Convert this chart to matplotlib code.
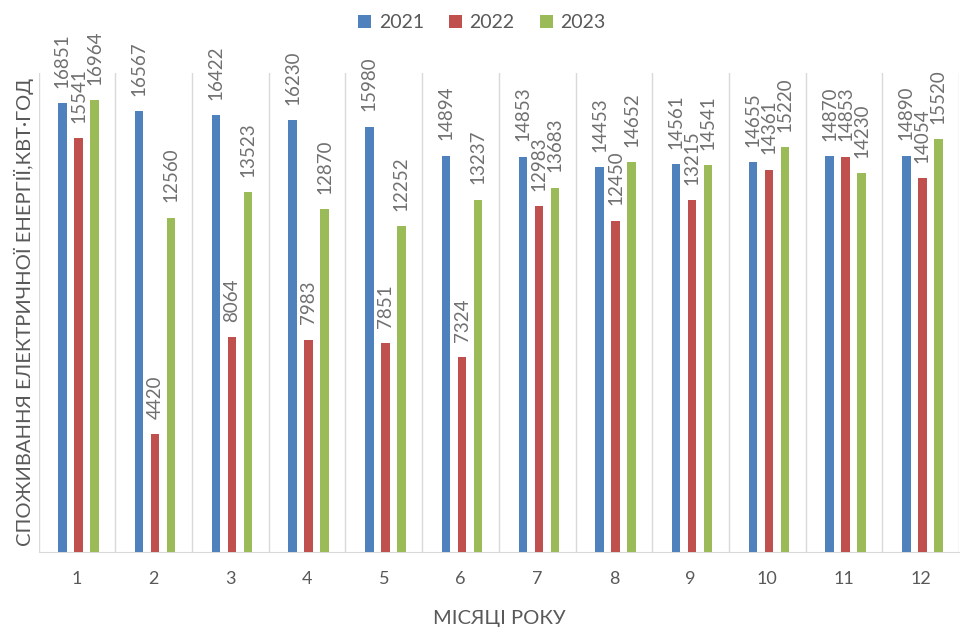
import matplotlib
matplotlib.use("Agg")
import matplotlib.pyplot as plt
import numpy as np

months = ["1", "2", "3", "4", "5", "6", "7", "8", "9", "10", "11", "12"]
y2021 = [16851, 16567, 16422, 16230, 15980, 14894, 14853, 14453, 14561, 14655, 14870, 14890]
y2022 = [15541, 4420, 8064, 7983, 7851, 7324, 12983, 12450, 13215, 14361, 14853, 14054]
y2023 = [16964, 12560, 13523, 12870, 12252, 13237, 13683, 14652, 14541, 15220, 14230, 15520]

series = [("2021", y2021, "#4F81BD"), ("2022", y2022, "#C0504D"), ("2023", y2023, "#9BBB59")]
txt = "#595959"
plt.rcParams["font.family"] = ["Lato", "DejaVu Sans"]

fig = plt.figure(figsize=(9.64, 6.28), dpi=100)
ax = fig.add_axes([0.040, 0.121, 0.955, 0.763])

x = np.arange(len(months))
w = 0.11
step = 0.209
for i, (name, vals, col) in enumerate(series):
    pos = x + (i - 1) * step + 0.02
    ax.bar(pos, vals, width=w, color=col, label=name, zorder=3)
    for p, v in zip(pos, vals):
        ax.annotate(str(v), (p, v), xytext=(0, 11), textcoords="offset points",
                    rotation=90, ha="center", va="bottom", color="#707070", fontsize=13.5)

ax.set_xlim(-0.5, len(months) - 0.5)
ax.set_ylim(0, 18000)
ax.set_yticks([])
ax.set_xticks(x)
ax.set_xticklabels(months, color=txt, fontsize=13)
ax.tick_params(axis="x", length=0, pad=14)
for b in np.arange(-0.5, len(months), 1.0):
    ax.axvline(b, color="#D9D9D9", lw=1, zorder=1)
for s in ["top", "right", "left"]:
    ax.spines[s].set_visible(False)
ax.spines["bottom"].set_color("#D9D9D9")

ax.set_xlabel("МІСЯЦІ РОКУ", color=txt, fontsize=14.5, labelpad=16)
ax.set_ylabel("СПОЖИВАННЯ ЕЛЕКТРИЧНОЇ ЕНЕРГІЇ,КВТ·ГОД", color=txt, fontsize=14.5, labelpad=3)

fig.legend(loc="upper center", bbox_to_anchor=(0.5, 1.005), ncol=3, frameon=False,
           fontsize=14, handlelength=0.65, handleheight=0.65, columnspacing=1.3,
           handletextpad=0.4, labelcolor=txt)

fig.savefig("out.png", dpi=100)
